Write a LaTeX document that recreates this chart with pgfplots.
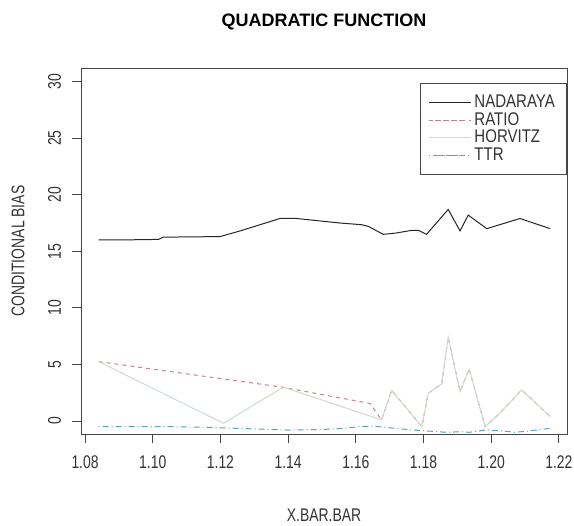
\documentclass[border=0pt]{standalone}
\usepackage{fontspec}
\setmainfont{Liberation Sans}
\newfontfamily\rfont{Liberation Sans}[FakeStretch=0.76]
\newfontfamily\lfont{Liberation Sans}[FakeStretch=0.82]
\usepackage{pgfplots}
\pgfplotsset{compat=1.18}

\definecolor{ratiocol}{RGB}{185,135,135}
\definecolor{horvcol}{RGB}{205,218,205}
\definecolor{ttrcol}{RGB}{90,165,175}
\definecolor{framecol}{RGB}{70,70,70}

\begin{document}
\begin{tikzpicture}
\begin{axis}[
  name=ax,
  scale only axis,
  width=291.6pt, height=219.6pt,
  xmin=1.0788, xmax=1.2224,
  ymin=-1.15, ymax=31.2,
  axis line style={framecol, line width=0.6pt},
  tick style={framecol, line width=0.6pt},
  tick align=outside, major tick length=5.5pt,
  xtick={1.08,1.10,1.12,1.14,1.16,1.18,1.20,1.22},
  xticklabels={1.08,1.10,1.12,1.14,1.16,1.18,1.20,1.22},
  ytick={0,5,10,15,20,25,30},
  xtick pos=bottom, ytick pos=left,
  /pgf/number format/assume math mode=true,
  tick label style={font=\rfont\fontsize{11}{12}\selectfont, text=black!80},
  xticklabel style={yshift=-4pt},
  yticklabel style={xshift=-3pt, rotate=90, anchor=south},
  title={QUADRATIC FUNCTION},
  title style={font=\fontsize{10.8}{12}\selectfont\bfseries, at={(0.5,1.098)}, anchor=center},
  xlabel={X.BAR.BAR},
  xlabel style={font=\rfont\fontsize{11}{12}\selectfont, text=black!80, at={(0.5,-0.2213)}, anchor=center},
  ylabel={CONDITIONAL BIAS},
  ylabel style={font=\rfont\fontsize{11}{12}\selectfont, text=black!80, at={(-0.1296,0.5)}, anchor=center},
  legend style={at={(1,0.959)}, anchor=north east, draw=framecol, line width=0.5pt,
    font=\lfont\fontsize{11}{11}\selectfont, text=black!80,
    inner xsep=5pt, inner ysep=5pt, row sep=-2.6pt,
    cells={anchor=west, inner xsep=4.5pt, inner ysep=1.5pt}},
  legend cell align=left,
  legend image code/.code={
    \path (-0.13cm,0cm) -- (0.75cm,0cm);
    \draw[#1] (0cm,0cm) -- (0.6cm,0cm);},
]
\addplot[black!85, line width=0.6pt] coordinates {
  (1.0840,16.0) (1.0898,16.0) (1.1017,16.05) (1.1031,16.25) (1.1199,16.3)
  (1.1258,16.8) (1.1376,17.9) (1.1425,17.9) (1.1553,17.5) (1.1617,17.35)
  (1.1637,17.2) (1.1681,16.5) (1.1716,16.6) (1.1765,16.85) (1.1785,16.85)
  (1.1809,16.5) (1.1873,18.7) (1.1908,16.8) (1.1932,18.2) (1.1987,17.0)
  (1.2085,17.9) (1.2174,17.0) };
\addlegendentry{NADARAYA}
\addplot[ratiocol, line width=0.6pt, dash pattern=on 2.4pt off 2.4pt] coordinates {
  (1.0840,5.25) (1.1381,3.0) (1.1642,1.55) (1.1676,0.1) (1.1706,2.7)
  (1.1795,-0.5) (1.1814,2.45) (1.1854,3.3) (1.1873,7.4) (1.1908,2.6)
  (1.1935,4.6) (1.1982,-0.5) (1.2026,0.7) (1.2090,2.75) (1.2174,0.4) };
\addlegendentry{RATIO}
\addplot[horvcol, line width=0.6pt] coordinates {
  (1.0840,5.25) (1.1209,-0.2) (1.1386,3.0) (1.1676,0.1) (1.1706,2.7)
  (1.1795,-0.5) (1.1814,2.45) (1.1854,3.3) (1.1873,7.4) (1.1908,2.6)
  (1.1935,4.6) (1.1982,-0.5) (1.2026,0.7) (1.2090,2.75) (1.2174,0.4) };
\addlegendentry{HORVITZ}
\addplot[ttrcol, line width=0.6pt, dash pattern=on 0.6pt off 1.8pt on 3.6pt off 1.8pt] coordinates {
  (1.0840,-0.5) (1.0950,-0.5) (1.1050,-0.5) (1.1150,-0.55) (1.1250,-0.65)
  (1.1300,-0.7) (1.1400,-0.8) (1.1500,-0.75) (1.1560,-0.65) (1.1610,-0.5)
  (1.1650,-0.45) (1.1700,-0.6) (1.1770,-0.8) (1.1820,-0.9) (1.1868,-1.0)
  (1.1908,-0.95) (1.1935,-1.0) (1.1982,-0.8) (1.2026,-0.85) (1.2070,-1.0)
  (1.2120,-0.85) (1.2174,-0.65) };
\addlegendentry{TTR}
\end{axis}
\pgfresetboundingbox
\path ([shift={(-48.6pt,-54.6pt)}]ax.south west) rectangle ([shift={(4.2pt,40.8pt)}]ax.north east);
\end{tikzpicture}
\end{document}
